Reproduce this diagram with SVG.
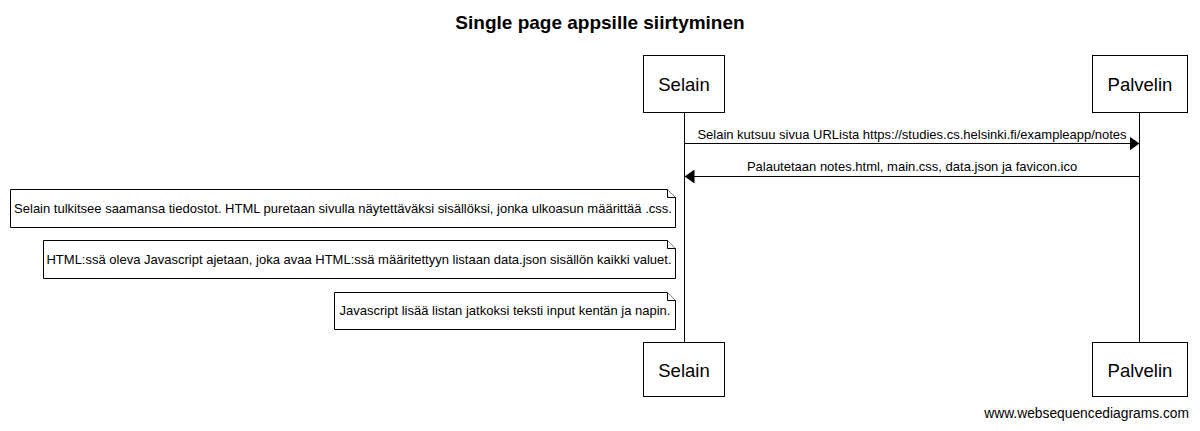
<svg xmlns="http://www.w3.org/2000/svg" width="1200" height="431" viewBox="0 0 1200 431">
<style>
  text { font-family: "Liberation Sans", Arial, sans-serif; fill: #000; }
  .title { font-size: 19px; font-weight: bold; }
  .actor rect { fill: #fff; stroke: #000; stroke-width: 1; }
  .actor text { font-size: 18.5px; text-anchor: middle; }
  .note path { fill: #fff; stroke: #000; stroke-width: 1; }
  .note text { font-size: 13px; text-anchor: middle; }
  .life { stroke: #000; stroke-width: 1; }
  .msg { stroke: #000; stroke-width: 1; fill: none; }
  .lbl { font-size: 13px; text-anchor: middle; }
  .wm { font-size: 13.8px; text-anchor: end; }
</style>
<defs>
  <marker id="ah" viewBox="0 0 10 14" refX="10" refY="7" markerWidth="10" markerHeight="14" markerUnits="userSpaceOnUse" orient="auto">
    <path d="M0,0 L10,7 L0,14 Z" fill="#000"/>
  </marker>
</defs>
<rect width="1200" height="431" fill="#fff"/>
<text class="title" x="600" y="29" text-anchor="middle">Single page appsille siirtyminen</text>

<g id="lifelines">
  <line class="life" x1="684.5" y1="112" x2="684.5" y2="342"/>
  <line class="life" x1="1139.5" y1="112" x2="1139.5" y2="342"/>
</g>

<g id="Selain-top" class="actor">
  <rect x="643.5" y="55.5" width="81" height="57"/>
  <text x="684" y="91">Selain</text>
</g>
<g id="Palvelin-top" class="actor">
  <rect x="1092.5" y="55.5" width="95" height="57"/>
  <text x="1140" y="91">Palvelin</text>
</g>
<g id="Selain-bottom" class="actor">
  <rect x="643.5" y="342.5" width="81" height="54"/>
  <text x="684" y="377">Selain</text>
</g>
<g id="Palvelin-bottom" class="actor">
  <rect x="1092.5" y="342.5" width="95" height="54"/>
  <text x="1140" y="377">Palvelin</text>
</g>

<g id="connectors">
  <line class="msg" x1="684.5" y1="143.5" x2="1139.5" y2="143.5" marker-end="url(#ah)"/>
  <text class="lbl" x="912" y="139">Selain kutsuu sivua URLista https://studies.cs.helsinki.fi/exampleapp/notes</text>
  <line class="msg" x1="1139.5" y1="176.5" x2="684.5" y2="176.5" marker-end="url(#ah)"/>
  <text class="lbl" x="912" y="171">Palautetaan notes.html, main.css, data.json ja favicon.ico</text>
</g>

<g id="note1" class="note">
  <path d="M10.5,189.5 H667.5 L675.5,197.5 V227.5 H10.5 Z"/>
  <path d="M667.5,189.5 V197.5 H675.5" fill="none"/>
  <text x="343" y="213">Selain tulkitsee saamansa tiedostot. HTML puretaan sivulla näytettäväksi sisällöksi, jonka ulkoasun määrittää .css.</text>
</g>
<g id="note2" class="note">
  <path d="M43.5,240.5 H667.5 L675.5,248.5 V278.5 H43.5 Z"/>
  <path d="M667.5,240.5 V248.5 H675.5" fill="none"/>
  <text x="359" y="264">HTML:ssä oleva Javascript ajetaan, joka avaa HTML:ssä määritettyyn listaan data.json sisällön kaikki valuet.</text>
</g>
<g id="note3" class="note">
  <path d="M334.5,292.5 H667.5 L675.5,300.5 V329.5 H334.5 Z"/>
  <path d="M667.5,292.5 V300.5 H675.5" fill="none"/>
  <text x="505" y="315">Javascript lisää listan jatkoksi teksti input kentän ja napin.</text>
</g>

<text class="wm" x="1189" y="418">www.websequencediagrams.com</text>
</svg>
